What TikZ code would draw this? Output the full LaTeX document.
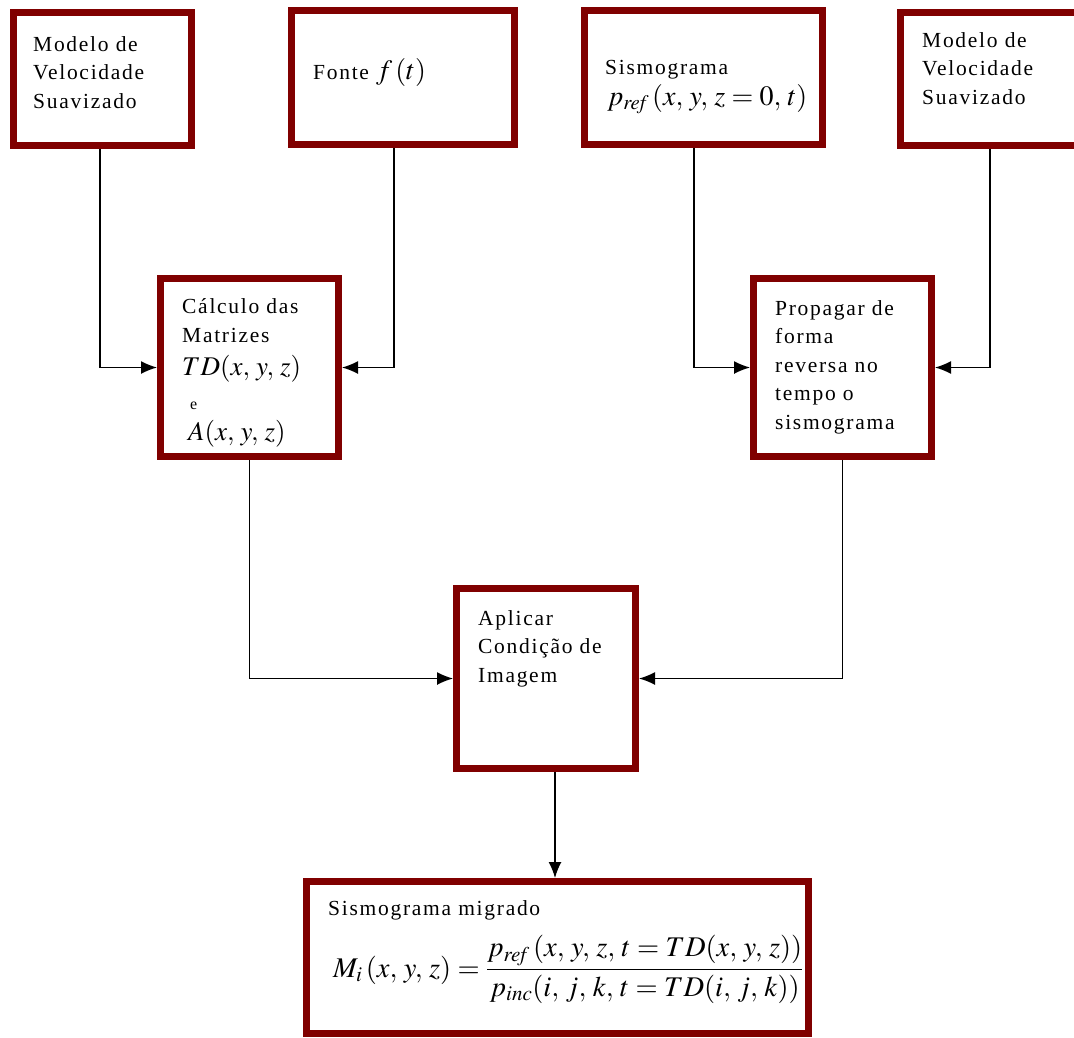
\documentclass[tikz,border=0pt]{standalone}
\usepackage{mathptmx}
\usepackage{fontspec}
\setmainfont{Liberation Serif}[LetterSpace=8]
\usetikzlibrary{arrows.meta}
\definecolor{boxred}{RGB}{128,0,0}
\newcommand{\cm}{,\,}
\begin{document}
\begin{tikzpicture}[x=1pt,y=-1pt,
  box/.style={draw=boxred, line width=7pt, rectangle, inner sep=0pt},
  txt/.style={anchor=base west, inner sep=0pt, align=left, font=\fontsize{21.5}{28.5}\selectfont},
  mth/.style={anchor=base west, inner sep=0pt, font=\fontsize{27}{30}\selectfont},
  conn/.style={draw=black, line width=1.4pt, -{Latex[length=16pt,width=13pt]}}]
\fill[white] (0,0) rectangle (1074,1037);
\clip (0,0) rectangle (1074,1037);
% texts (base = baseline of the last line)
\node[txt] (t1) at (33,108) {Modelo de\\Velocidade\\Suavizado};
\node[txt] (t2) at (313,79) {Fonte \fontsize{28}{30}\selectfont$f\,(t)$};
\node[txt] (t3a) at (605,74) {Sismograma};
\node[mth, font=\fontsize{28}{30}\selectfont] (t3b) at (607,105) {$p_{\mathit{ref}}\,(x\cm y\cm z=0\cm t)$};
\node[txt] (t4) at (922,104) {Modelo de\\Velocidade\\Suavizado};
\node[txt] (c1) at (182,342) {Cálculo das\\Matrizes};
\node[mth] (c2) at (182,375) {$TD(x\cm y\cm z)$};
\node[txt, font=\fontsize{16}{20}\selectfont] (c3) at (190,409) {e};
\node[mth] (c4) at (188,440) {$A(x\cm y\cm z)$};
\node[txt] (p1) at (775,429) {Propagar de\\forma\\reversa no\\tempo o\\sismograma};
\node[txt] (a1) at (478,682) {Aplicar\\Condição de\\Imagem};
\node[txt] (s1) at (328,915) {Sismograma migrado};
\node[mth, font=\fontsize{28.5}{32}\selectfont] (s2) at (333,977) {$\displaystyle M_i\,(x\cm y\cm z)=\frac{p_{\mathit{ref}}\,(x\cm y\cm z\cm t=TD(x\cm y\cm z))}{p_{\mathit{inc}}(i\cm j\cm k\cm t=TD(i\cm j\cm k))}$};
% boxes
\node[box, minimum width=178pt, minimum height=133pt] (b1) at (102.5,79) {};
\node[box, minimum width=223pt, minimum height=134pt] (b2) at (403,77.5) {};
\node[box, minimum width=238pt, minimum height=134pt] (b3) at (703.5,77.5) {};
\node[box, minimum width=186pt, minimum height=133pt] (b4) at (993.5,79) {};
\node[box, minimum width=178pt, minimum height=178pt] (calc) at (249.5,367.5) {};
\node[box, minimum width=178pt, minimum height=178pt] (prop) at (842.5,367.5) {};
\node[box, minimum width=179pt, minimum height=180pt] (apl) at (546,678.5) {};
\node[box, minimum width=502pt, minimum height=152pt] (bot) at (557.5,957.5) {};
% connectors
\draw[conn] ([xshift=-2.5pt]b1.south) |- (calc.west);
\draw[conn] ([xshift=-9pt]b2.south) |- (calc.east);
\draw[conn] ([xshift=-9.5pt]b3.south) |- (prop.west);
\draw[conn] ([xshift=-3.5pt]b4.south) |- (prop.east);
\draw[conn] (calc.south) |- (apl.west);
\draw[conn] (prop.south) |- (apl.east);
\draw[conn] ([xshift=9pt]apl.south) -- ([xshift=9pt]apl.south |- bot.north);
\end{tikzpicture}
\end{document}
